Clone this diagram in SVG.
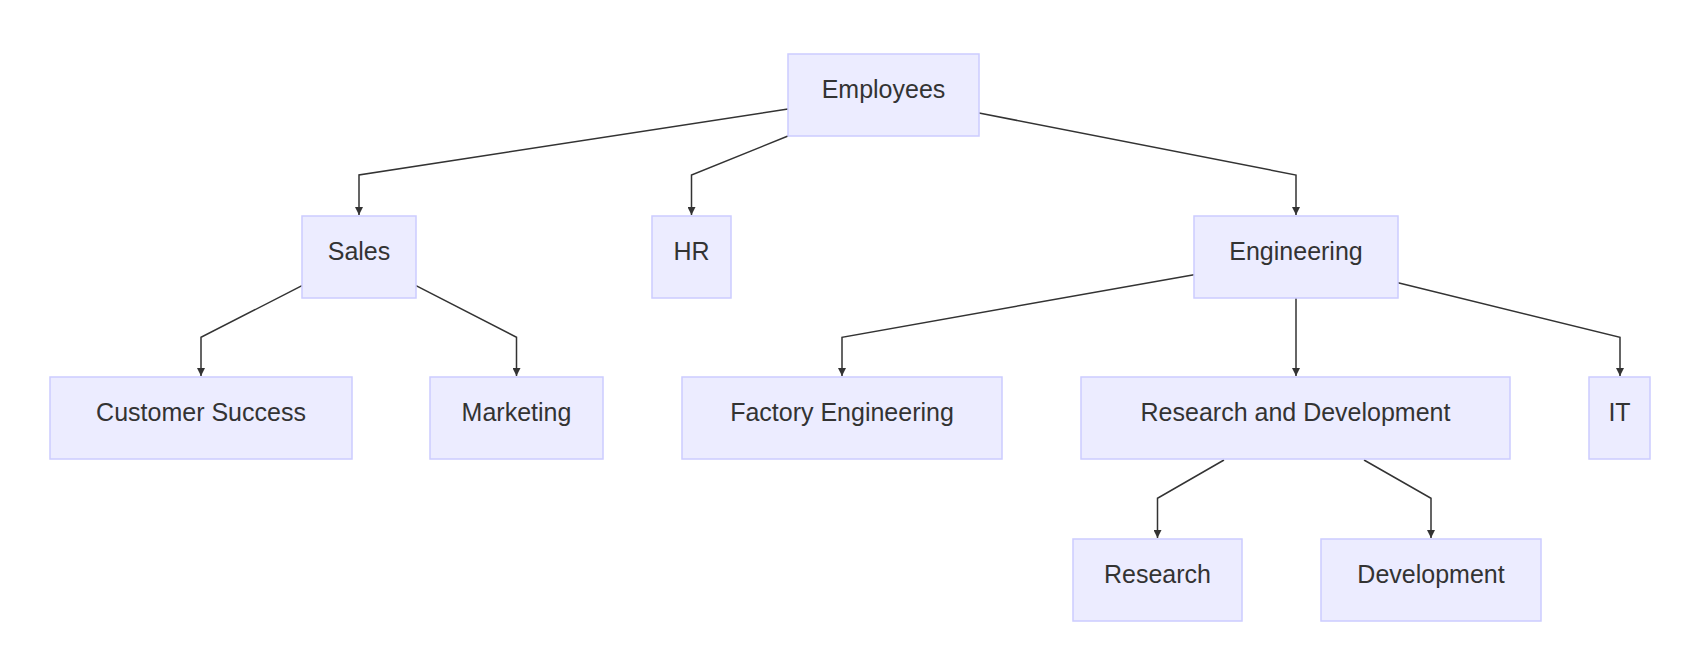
<svg xmlns="http://www.w3.org/2000/svg" width="1706" height="662" viewBox="0 0 1706 662">
<style>
.node rect{fill:#ECECFF;stroke:#CCCCFF;stroke-width:1.5}
.node text{font-family:"Liberation Sans",Arial,sans-serif;font-size:25px;fill:#333;text-anchor:middle}
.edges path{fill:none;stroke:#333;stroke-width:1.5;marker-end:url(#arrow)}
</style>
<defs>
<marker id="arrow" viewBox="0 0 10 10" refX="10" refY="5" markerWidth="8" markerHeight="8" markerUnits="userSpaceOnUse" orient="auto">
<path d="M0,0 L10,5 L0,10 z" fill="#333"/>
</marker>
</defs>
<rect width="1706" height="662" fill="#fff"/>
<g class="edges">
<path d="M788,109 L359,175 L359,215"/>
<path d="M788,136 L691.5,175 L691.5,215"/>
<path d="M979,113 L1296,175 L1296,215"/>
<path d="M302,285.7 L201,337.3 L201,376"/>
<path d="M416,285.7 L516.5,337.3 L516.5,376"/>
<path d="M1194,274.7 L842,337.3 L842,376"/>
<path d="M1296,298 L1296,376"/>
<path d="M1398,282.7 L1620,337.3 L1620,376"/>
<path d="M1224,460 L1157.5,498.3 L1157.5,538"/>
<path d="M1364,460 L1431,498.3 L1431,538"/>
</g>
<g class="node" id="employees"><rect x="788" y="54" width="191" height="82"/><text x="883.5" y="98">Employees</text></g>
<g class="node" id="sales"><rect x="302" y="216" width="114" height="82"/><text x="359" y="260">Sales</text></g>
<g class="node" id="hr"><rect x="652" y="216" width="79" height="82"/><text x="691.5" y="260">HR</text></g>
<g class="node" id="engineering"><rect x="1194" y="216" width="204" height="82"/><text x="1296" y="260">Engineering</text></g>
<g class="node" id="customer-success"><rect x="50" y="377" width="302" height="82"/><text x="201" y="421">Customer Success</text></g>
<g class="node" id="marketing"><rect x="430" y="377" width="173" height="82"/><text x="516.5" y="421">Marketing</text></g>
<g class="node" id="factory-engineering"><rect x="682" y="377" width="320" height="82"/><text x="842" y="421">Factory Engineering</text></g>
<g class="node" id="rnd"><rect x="1081" y="377" width="429" height="82"/><text x="1295.5" y="421">Research and Development</text></g>
<g class="node" id="it"><rect x="1589" y="377" width="61" height="82"/><text x="1619.5" y="421">IT</text></g>
<g class="node" id="research"><rect x="1073" y="539" width="169" height="82"/><text x="1157.5" y="583">Research</text></g>
<g class="node" id="development"><rect x="1321" y="539" width="220" height="82"/><text x="1431" y="583">Development</text></g>
</svg>
